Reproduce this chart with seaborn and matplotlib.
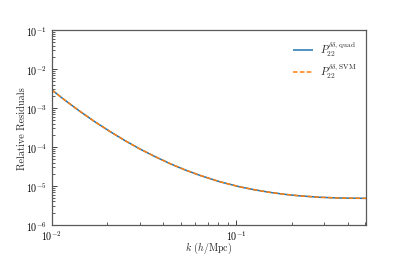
import numpy as np
import pandas as pd
import matplotlib
matplotlib.use("Agg")
import matplotlib.pyplot as plt
import seaborn as sns
from matplotlib.ticker import LogLocator, NullFormatter

sns.set_theme(style="ticks")
plt.rcParams['font.family'] = ['cmr10', 'DejaVu Serif']
plt.rcParams['mathtext.fontset'] = 'cm'
plt.rcParams['axes.formatter.use_mathtext'] = True

# data
k = [0.01000, 0.01180, 0.01423, 0.01715, 0.02068, 0.02494, 0.03006,
     0.03625, 0.04370, 0.05268, 0.06352, 0.08151, 0.1046, 0.1261,
     0.1520, 0.1833, 0.2210, 0.2836, 0.3638, 0.5030]
res_quad = [2.94e-3, 1.585e-3, 8.22e-4, 4.43e-4, 2.50e-4, 1.46e-4, 8.89e-5,
            5.68e-5, 3.75e-5, 2.59e-5, 1.87e-5, 1.28e-5, 9.48e-6, 7.94e-6,
            6.85e-6, 6.09e-6, 5.57e-6, 5.13e-6, 4.90e-6, 4.81e-6]
res_svm = [2.94e-3, 1.585e-3, 8.22e-4, 4.43e-4, 2.50e-4, 1.46e-4, 8.89e-5,
           5.68e-5, 3.75e-5, 2.59e-5, 1.87e-5, 1.28e-5, 9.48e-6, 7.94e-6,
           6.85e-6, 6.09e-6, 5.57e-6, 5.13e-6, 4.90e-6, 4.81e-6]
labels = [r'$P_{22}^{\delta\delta,\,\mathrm{quad}}$', r'$P_{22}^{\delta\delta,\,\mathrm{SVM}}$']

df = pd.concat([
    pd.DataFrame({'k': k, 'res': res_quad, 'series': labels[0]}),
    pd.DataFrame({'k': k, 'res': res_svm, 'series': labels[1]}),
])

fig = plt.figure(figsize=(4.07, 2.55), dpi=100)
ax = fig.add_axes([0.127, 0.114, 0.772, 0.764])

sns.lineplot(data=df, x='k', y='res', hue='series', style='series',
             palette=['#1f77b4', '#ff7f0e'], dashes=[(1, 0), (3, 1.5)],
             linewidth=1.1, ax=ax)

ax.set_xscale('log')
ax.set_yscale('log')
ax.set_xlim(0.01, 0.5030)
ax.set_ylim(1e-6, 1e-1)
ax.yaxis.set_major_locator(LogLocator(base=10, numticks=100))
ax.yaxis.set_minor_locator(LogLocator(base=10, subs=np.arange(2, 10), numticks=100))
ax.yaxis.set_minor_formatter(NullFormatter())
ax.xaxis.set_minor_locator(LogLocator(base=10, subs=np.arange(2, 10), numticks=100))
ax.xaxis.set_minor_formatter(NullFormatter())

ax.tick_params(which='both', direction='in', labelsize=7.2, labelcolor='black',
               color='0.25', top=False, right=False)
ax.tick_params(which='major', length=3.5, width=0.7, pad=3.2)
ax.tick_params(axis='x', which='major', pad=2.4)
ax.tick_params(which='minor', length=2, width=0.6)
for s in ax.spines.values():
    s.set_color('0.35')
    s.set_linewidth(0.9)

ax.set_xlabel(r'$k$ ($h$/Mpc)', fontsize=7.2, va='center')
ax.set_ylabel('Relative Residuals', fontsize=7.4)
ax.xaxis.set_label_coords(0.5, -0.113)
ax.yaxis.set_label_coords(-0.078, 0.5)

leg = ax.legend(loc='upper right', frameon=False, fontsize=7.5,
                handlelength=2.0, handletextpad=0.6, labelspacing=0.35)

fig.savefig('out.png', dpi=100)
